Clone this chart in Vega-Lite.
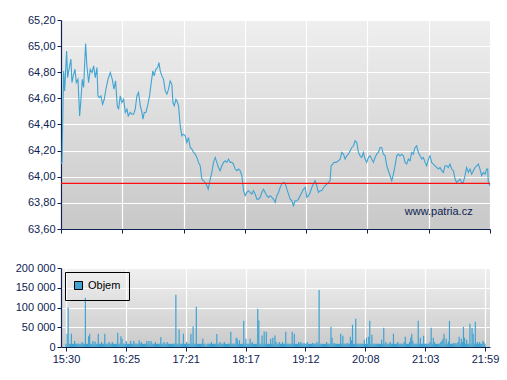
{
"$schema": "https://vega.github.io/schema/vega-lite/v6.json",
"padding": {"left": 11, "top": 14, "right": 3, "bottom": 5},
"spacing": 39,
"bounds": "flush",
"resolve": {"legend": {"color": "independent"}},
"config": {
 "locale": {"number": {"decimal": ",", "thousands": " ", "grouping": [3], "currency": ["", ""]}},
 "font": "Liberation Sans",
 "view": {"stroke": null},
 "axis": {"labelFont": "Liberation Sans", "labelFontSize": 11, "labelColor": "#0d2352", "domainColor": "#0d2352", "tickColor": "#0d2352", "gridColor": "#ffffff", "gridWidth": 1.2, "gridOpacity": 1, "tickSize": 4, "labelPadding": 2, "title": null, "domainWidth": 1.2}
},
"datasets": {
"price": [
{"t":0,"p":64.097},{"t":0.9,"p":64.11},{"t":2.4,"p":64.81},{"t":3.3,"p":64.657},{"t":5.1,"p":64.963},{"t":6.0,"p":64.759},{"t":7.5,"p":64.836},{"t":9.0,"p":64.9},{"t":9.9,"p":64.721},{"t":11.1,"p":64.772},{"t":12.65,"p":64.823},{"t":13.9,"p":64.721},{"t":15.4,"p":64.746},{"t":16.9,"p":64.466},{"t":18.1,"p":64.593},{"t":19.3,"p":64.746},{"t":20.5,"p":64.683},{"t":22.3,"p":65.019},{"t":23.5,"p":64.848},{"t":25.0,"p":64.721},{"t":26.5,"p":64.823},{"t":28.1,"p":64.797},{"t":29.6,"p":64.848},{"t":31.1,"p":64.759},{"t":32.6,"p":64.836},{"t":33.5,"p":64.619},{"t":34.7,"p":64.606},{"t":36.2,"p":64.619},{"t":37.7,"p":64.555},{"t":39.2,"p":64.593},{"t":41.0,"p":64.683},{"t":42.6,"p":64.746},{"t":44.7,"p":64.797},{"t":46.5,"p":64.746},{"t":48.0,"p":64.67},{"t":49.5,"p":64.734},{"t":51.0,"p":64.543},{"t":52.2,"p":64.517},{"t":53.7,"p":64.619},{"t":55.2,"p":64.568},{"t":56.8,"p":64.593},{"t":58.3,"p":64.492},{"t":59.8,"p":64.517},{"t":61.0,"p":64.466},{"t":62.8,"p":64.492},{"t":64.3,"p":64.479},{"t":65.8,"p":64.479},{"t":67.3,"p":64.517},{"t":68.8,"p":64.619},{"t":70.3,"p":64.645},{"t":71.9,"p":64.543},{"t":73.4,"p":64.492},{"t":74.3,"p":64.441},{"t":75.5,"p":64.492},{"t":77.0,"p":64.492},{"t":78.5,"p":64.543},{"t":80.3,"p":64.619},{"t":81.8,"p":64.721},{"t":83.3,"p":64.81},{"t":84.5,"p":64.772},{"t":86.0,"p":64.823},{"t":87.6,"p":64.836},{"t":88.8,"p":64.874},{"t":90.0,"p":64.81},{"t":91.5,"p":64.772},{"t":93.0,"p":64.746},{"t":94.5,"p":64.657},{"t":96.0,"p":64.632},{"t":97.5,"p":64.67},{"t":99.0,"p":64.734},{"t":100.5,"p":64.708},{"t":101.5,"p":64.568},{"t":102.7,"p":64.543},{"t":104.2,"p":64.593},{"t":105.1,"p":64.581},{"t":106.6,"p":64.543},{"t":108.1,"p":64.39},{"t":109.6,"p":64.313},{"t":111.1,"p":64.326},{"t":112.6,"p":64.313},{"t":114.1,"p":64.262},{"t":115.6,"p":64.3},{"t":117.2,"p":64.224},{"t":118.7,"p":64.211},{"t":120.2,"p":64.186},{"t":121.7,"p":64.173},{"t":123.2,"p":64.148},{"t":124.7,"p":64.11},{"t":126.2,"p":64.084},{"t":127.7,"p":63.982},{"t":129.2,"p":63.97},{"t":130.7,"p":63.956},{"t":132.3,"p":63.931},{"t":133.5,"p":63.905},{"t":135.3,"p":63.982},{"t":136.8,"p":64.033},{"t":138.3,"p":64.11},{"t":139.8,"p":64.148},{"t":141.3,"p":64.11},{"t":142.8,"p":64.071},{"t":144.3,"p":64.046},{"t":145.8,"p":64.084},{"t":147.4,"p":64.11},{"t":148.9,"p":64.122},{"t":150.4,"p":64.11},{"t":151.9,"p":64.135},{"t":153.4,"p":64.11},{"t":154.9,"p":64.11},{"t":156.4,"p":64.097},{"t":157.9,"p":64.059},{"t":159.4,"p":64.046},{"t":161.0,"p":64.059},{"t":162.5,"p":64.046},{"t":164.0,"p":64.008},{"t":165.5,"p":63.893},{"t":167.0,"p":63.855},{"t":168.5,"p":63.88},{"t":170.0,"p":63.893},{"t":171.5,"p":63.88},{"t":173.0,"p":63.867},{"t":174.5,"p":63.893},{"t":176.1,"p":63.867},{"t":177.6,"p":63.829},{"t":179.1,"p":63.829},{"t":180.6,"p":63.842},
{"t":182.1,"p":63.88},{"t":183.6,"p":63.905},{"t":185.1,"p":63.88},{"t":186.6,"p":63.855},{"t":188.1,"p":63.842},{"t":189.7,"p":63.855},{"t":191.2,"p":63.842},{"t":192.7,"p":63.829},{"t":194.2,"p":63.803},{"t":195.7,"p":63.855},{"t":197.2,"p":63.88},{"t":198.7,"p":63.918},{"t":200.2,"p":63.944},{"t":201.7,"p":63.956},{"t":203.2,"p":63.951},{"t":204.8,"p":63.905},{"t":206.3,"p":63.867},{"t":207.8,"p":63.829},{"t":209.3,"p":63.816},{"t":210.8,"p":63.778},{"t":212.3,"p":63.816},{"t":213.8,"p":63.816},{"t":215.3,"p":63.829},{"t":216.8,"p":63.855},{"t":218.3,"p":63.88},{"t":219.9,"p":63.905},{"t":221.4,"p":63.918},{"t":222.9,"p":63.842},{"t":224.4,"p":63.855},{"t":225.9,"p":63.88},{"t":227.4,"p":63.918},{"t":228.9,"p":63.944},{"t":230.4,"p":63.969},{"t":231.9,"p":63.931},{"t":233.4,"p":63.88},{"t":235.0,"p":63.893},{"t":236.5,"p":63.893},{"t":238.0,"p":63.918},{"t":239.5,"p":63.931},{"t":241.0,"p":63.944},{"t":242.5,"p":63.956},{"t":244.0,"p":63.969},{"t":244.9,"p":64.084},{"t":246.4,"p":64.097},{"t":247.6,"p":64.11},{"t":249.5,"p":64.11},{"t":251.6,"p":64.122},{"t":253.1,"p":64.135},{"t":254.6,"p":64.186},{"t":256.1,"p":64.173},{"t":257.6,"p":64.135},{"t":259.1,"p":64.16},{"t":260.6,"p":64.173},{"t":262.1,"p":64.198},{"t":263.7,"p":64.224},{"t":265.2,"p":64.237},{"t":266.7,"p":64.275},{"t":268.2,"p":64.262},{"t":269.7,"p":64.186},{"t":271.2,"p":64.16},{"t":272.7,"p":64.148},{"t":274.2,"p":64.186},{"t":275.7,"p":64.135},{"t":277.2,"p":64.11},{"t":278.8,"p":64.148},{"t":280.3,"p":64.16},{"t":281.8,"p":64.135},{"t":283.3,"p":64.11},{"t":284.8,"p":64.148},{"t":286.3,"p":64.173},{"t":287.8,"p":64.186},{"t":289.3,"p":64.224},{"t":290.8,"p":64.224},{"t":292.3,"p":64.173},{"t":293.9,"p":64.16},{"t":295.4,"p":64.084},{"t":296.9,"p":64.046},{"t":298.4,"p":64.008},{"t":299.9,"p":63.969},{"t":301.4,"p":64.02},{"t":302.9,"p":64.084},{"t":304.4,"p":64.16},{"t":305.9,"p":64.173},{"t":307.4,"p":64.16},{"t":309.0,"p":64.173},{"t":310.5,"p":64.16},{"t":312.0,"p":64.11},{"t":313.5,"p":64.097},{"t":315.0,"p":64.135},{"t":316.5,"p":64.122},{"t":318.0,"p":64.186},{"t":319.5,"p":64.173},{"t":321.0,"p":64.224},{"t":322.5,"p":64.237},{"t":324.0,"p":64.186},{"t":325.6,"p":64.16},{"t":327.1,"p":64.135},{"t":328.6,"p":64.148},{"t":330.1,"p":64.11},{"t":331.6,"p":64.084},{"t":333.1,"p":64.135},{"t":334.6,"p":64.16},{"t":336.1,"p":64.11},{"t":337.6,"p":64.097},{"t":339.2,"p":64.084},{"t":340.7,"p":64.071},{"t":342.2,"p":64.059},{"t":343.7,"p":64.071},{"t":345.2,"p":64.046},{"t":346.7,"p":64.033},{"t":348.2,"p":64.084},{"t":349.7,"p":64.084},{"t":351.2,"p":64.071},{"t":352.7,"p":64.097},{"t":354.3,"p":64.059},{"t":355.8,"p":64.046},{"t":357.3,"p":63.982},{"t":358.8,"p":63.956},{"t":360.3,"p":63.969},{"t":361.8,"p":63.982},{"t":363.3,"p":63.956},{"t":364.8,"p":63.956},{"t":366.3,"p":64.008},{"t":367.8,"p":64.071},{"t":369.4,"p":64.033},{"t":370.9,"p":64.059},{"t":372.4,"p":64.02},{"t":373.9,"p":64.046},{"t":375.4,"p":64.071},{"t":376.9,"p":64.084},{"t":378.4,"p":64.097},{"t":379.9,"p":64.059},{"t":381.4,"p":64.008},{"t":382.9,"p":64.033},{"t":384.5,"p":64.02},{"t":386.0,"p":64.059},{"t":386.9,"p":64.059},{"t":387.5,"p":63.956},{"t":389.0,"p":63.931}
],
"vol": [
{"t":0,"v":8000},{"t":1,"v":33600},{"t":2,"v":100000},{"t":3,"v":8000},{"t":4,"v":8000},{"t":5,"v":33600},{"t":6,"v":8000},{"t":7,"v":8000},{"t":8,"v":15000},{"t":9,"v":8000},
{"t":10,"v":8000},{"t":11,"v":8000},{"t":12,"v":8000},{"t":13,"v":8000},{"t":14,"v":8000},{"t":15,"v":12600},{"t":16,"v":8000},{"t":17,"v":8000},{"t":18,"v":125000},{"t":19,"v":8000},
{"t":20,"v":8000},{"t":21,"v":27000},{"t":22,"v":33600},{"t":23,"v":8000},{"t":24,"v":8000},{"t":25,"v":15000},{"t":26,"v":8000},{"t":27,"v":14000},{"t":28,"v":8000},{"t":29,"v":8000},
{"t":30,"v":33600},{"t":31,"v":8000},{"t":32,"v":8000},{"t":33,"v":12600},{"t":34,"v":8000},{"t":35,"v":8000},{"t":36,"v":33600},{"t":37,"v":8000},{"t":38,"v":8000},{"t":39,"v":8000},
{"t":40,"v":12600},{"t":41,"v":8000},{"t":42,"v":8000},{"t":43,"v":12600},{"t":44,"v":8000},{"t":45,"v":8000},{"t":46,"v":8000},{"t":47,"v":8000},{"t":48,"v":36000},{"t":49,"v":8000},
{"t":50,"v":8000},{"t":51,"v":27000},{"t":52,"v":21000},{"t":53,"v":8000},{"t":54,"v":8000},{"t":55,"v":8000},{"t":56,"v":15000},{"t":57,"v":8000},{"t":58,"v":8000},{"t":59,"v":8000},
{"t":60,"v":15000},{"t":61,"v":8000},{"t":62,"v":8000},{"t":63,"v":15000},{"t":64,"v":8000},{"t":65,"v":8000},{"t":66,"v":8000},{"t":67,"v":8000},{"t":68,"v":17000},{"t":69,"v":8000},
{"t":70,"v":12600},{"t":71,"v":8000},{"t":72,"v":8000},{"t":73,"v":8000},{"t":74,"v":8000},{"t":75,"v":15000},{"t":76,"v":8000},{"t":77,"v":15000},{"t":78,"v":8000},{"t":79,"v":15000},
{"t":80,"v":8000},{"t":81,"v":8000},{"t":82,"v":8000},{"t":83,"v":12600},{"t":84,"v":8000},{"t":85,"v":8000},{"t":86,"v":8000},{"t":87,"v":8000},{"t":88,"v":25000},{"t":89,"v":8000},
{"t":90,"v":8000},{"t":91,"v":12600},{"t":92,"v":8000},{"t":93,"v":8000},{"t":94,"v":12600},{"t":95,"v":8000},{"t":96,"v":8000},{"t":97,"v":8000},{"t":98,"v":8000},{"t":99,"v":8000},
{"t":100,"v":8000},{"t":101,"v":8000},{"t":102,"v":132000},{"t":103,"v":8000},{"t":104,"v":8000},{"t":105,"v":44500},{"t":106,"v":8000},{"t":107,"v":8000},{"t":108,"v":8000},{"t":109,"v":33600},
{"t":110,"v":8000},{"t":111,"v":8000},{"t":112,"v":12600},{"t":113,"v":8000},{"t":114,"v":8000},{"t":115,"v":8000},{"t":116,"v":33600},{"t":117,"v":8000},{"t":118,"v":52000},{"t":119,"v":8000},
{"t":120,"v":8000},{"t":121,"v":101700},{"t":122,"v":8000},{"t":123,"v":8000},{"t":124,"v":8000},{"t":125,"v":8000},{"t":126,"v":8000},{"t":127,"v":21000},{"t":128,"v":8000},{"t":129,"v":8000},
{"t":130,"v":1500},{"t":131,"v":8000},{"t":132,"v":8000},{"t":133,"v":8000},{"t":134,"v":8000},{"t":135,"v":12600},{"t":136,"v":8000},{"t":137,"v":8000},{"t":138,"v":8000},{"t":139,"v":8000},
{"t":140,"v":33000},{"t":141,"v":8000},{"t":142,"v":8000},{"t":143,"v":12600},{"t":144,"v":8000},{"t":145,"v":8000},{"t":146,"v":8000},{"t":147,"v":12600},{"t":148,"v":8000},{"t":149,"v":8000},
{"t":150,"v":8000},{"t":151,"v":8000},{"t":152,"v":8000},{"t":153,"v":38600},{"t":154,"v":8000},{"t":155,"v":8000},{"t":156,"v":8000},{"t":157,"v":8000},{"t":158,"v":23500},{"t":159,"v":21000},
{"t":160,"v":8000},{"t":161,"v":17000},{"t":162,"v":8000},{"t":163,"v":8000},{"t":164,"v":8000},{"t":165,"v":66400},{"t":166,"v":8000},{"t":167,"v":21000},{"t":168,"v":8000},{"t":169,"v":8000},
{"t":170,"v":8000},{"t":171,"v":21000},{"t":172,"v":8000},{"t":173,"v":12600},{"t":174,"v":8000},{"t":175,"v":8000},{"t":176,"v":8000},{"t":177,"v":8000},{"t":178,"v":96600},{"t":179,"v":67200},
{"t":180,"v":8000},{"t":181,"v":8000},{"t":182,"v":29400},{"t":183,"v":8000},{"t":184,"v":39500},{"t":185,"v":8000},{"t":186,"v":38600},{"t":187,"v":8000},{"t":188,"v":8000},{"t":189,"v":8000},
{"t":190,"v":21000},{"t":191,"v":8000},{"t":192,"v":23500},{"t":193,"v":8000},{"t":194,"v":29400},{"t":195,"v":12600},{"t":196,"v":8000},{"t":197,"v":8000},{"t":198,"v":12600},{"t":199,"v":8000},
{"t":200,"v":8000},{"t":201,"v":12600},{"t":202,"v":8000},{"t":203,"v":8000},{"t":204,"v":38600},{"t":205,"v":8000},{"t":206,"v":8000},{"t":207,"v":8000},{"t":208,"v":8000},{"t":209,"v":8000},
{"t":210,"v":38600},{"t":211,"v":8000},{"t":212,"v":33600},{"t":213,"v":8000},{"t":214,"v":8000},{"t":215,"v":8000},{"t":216,"v":12600},{"t":217,"v":8000},{"t":218,"v":12600},{"t":219,"v":8000},
{"t":220,"v":8000},{"t":221,"v":10000},{"t":222,"v":8000},{"t":223,"v":8000},{"t":224,"v":12600},{"t":225,"v":8000},{"t":226,"v":8000},{"t":227,"v":8000},{"t":228,"v":8000},{"t":229,"v":10000},
{"t":230,"v":8000},{"t":231,"v":8000},{"t":232,"v":8000},{"t":233,"v":12600},{"t":234,"v":8000},{"t":235,"v":144500},{"t":236,"v":8000},{"t":237,"v":8000},{"t":238,"v":8000},{"t":239,"v":8000},
{"t":240,"v":8000},{"t":241,"v":8000},{"t":242,"v":12600},{"t":243,"v":8000},{"t":244,"v":8000},{"t":245,"v":8000},{"t":246,"v":51000},{"t":247,"v":23500},{"t":248,"v":8000},{"t":249,"v":10000},
{"t":250,"v":8000},{"t":251,"v":8000},{"t":252,"v":8000},{"t":253,"v":8000},{"t":254,"v":8000},{"t":255,"v":33600},{"t":256,"v":8000},{"t":257,"v":28500},{"t":258,"v":8000},{"t":259,"v":8000},
{"t":260,"v":8000},{"t":261,"v":10000},{"t":262,"v":8000},{"t":263,"v":8000},{"t":264,"v":26000},{"t":265,"v":17000},{"t":266,"v":56300},{"t":267,"v":8000},{"t":268,"v":8000},{"t":269,"v":71400},
{"t":270,"v":8000},{"t":271,"v":8000},{"t":272,"v":8000},{"t":273,"v":8000},{"t":274,"v":8000},{"t":275,"v":8000},{"t":276,"v":8000},{"t":277,"v":18500},{"t":278,"v":8000},{"t":279,"v":23500},
{"t":280,"v":8000},{"t":281,"v":26000},{"t":282,"v":66400},{"t":283,"v":8000},{"t":284,"v":31000},{"t":285,"v":8000},{"t":286,"v":8000},{"t":287,"v":8000},{"t":288,"v":8000},{"t":289,"v":8000},
{"t":290,"v":8000},{"t":291,"v":8000},{"t":292,"v":8000},{"t":293,"v":18500},{"t":294,"v":8000},{"t":295,"v":48700},{"t":296,"v":8000},{"t":297,"v":12600},{"t":298,"v":8000},{"t":299,"v":8000},
{"t":300,"v":8000},{"t":301,"v":12600},{"t":302,"v":8000},{"t":303,"v":8000},{"t":304,"v":33600},{"t":305,"v":8000},{"t":306,"v":8000},{"t":307,"v":8000},{"t":308,"v":12600},{"t":309,"v":8000},
{"t":310,"v":8000},{"t":311,"v":8000},{"t":312,"v":8000},{"t":313,"v":8000},{"t":314,"v":12600},{"t":315,"v":26000},{"t":316,"v":8000},{"t":317,"v":8000},{"t":318,"v":8000},{"t":319,"v":12600},
{"t":320,"v":23500},{"t":321,"v":33600},{"t":322,"v":16000},{"t":323,"v":8000},{"t":324,"v":8000},{"t":325,"v":8000},{"t":326,"v":8000},{"t":327,"v":66400},{"t":328,"v":8000},{"t":329,"v":23500},
{"t":330,"v":8000},{"t":331,"v":8000},{"t":332,"v":28500},{"t":333,"v":8000},{"t":334,"v":8000},{"t":335,"v":8000},{"t":336,"v":8000},{"t":337,"v":8000},{"t":338,"v":12600},{"t":339,"v":48700},
{"t":340,"v":8000},{"t":341,"v":23500},{"t":342,"v":12600},{"t":343,"v":8000},{"t":344,"v":8000},{"t":345,"v":8000},{"t":346,"v":8000},{"t":347,"v":8000},{"t":348,"v":12600},{"t":349,"v":16000},
{"t":350,"v":21000},{"t":351,"v":33600},{"t":352,"v":8000},{"t":353,"v":21000},{"t":354,"v":8000},{"t":355,"v":14000},{"t":356,"v":66400},{"t":357,"v":8000},{"t":358,"v":8000},{"t":359,"v":8000},
{"t":360,"v":10000},{"t":361,"v":8000},{"t":362,"v":10000},{"t":363,"v":8000},{"t":364,"v":12600},{"t":365,"v":26000},{"t":366,"v":8000},{"t":367,"v":21000},{"t":368,"v":12600},{"t":369,"v":51000},
{"t":370,"v":23500},{"t":371,"v":8000},{"t":372,"v":18500},{"t":373,"v":8000},{"t":374,"v":8000},{"t":375,"v":58800},{"t":376,"v":8000},{"t":377,"v":48700},{"t":378,"v":33600},{"t":379,"v":8000},
{"t":380,"v":63900},{"t":381,"v":8000},{"t":382,"v":12600},{"t":383,"v":8000},{"t":384,"v":12600},{"t":385,"v":8000},{"t":386,"v":8000},{"t":387,"v":16000},{"t":388,"v":12600},{"t":389,"v":8000}
]
},
"vconcat": [
{
 "width": 429, "height": 209,
 "view": {"stroke": null, "fill": {"gradient": "linear", "x1": 0, "y1": 0, "x2": 0, "y2": 1, "stops": [{"offset": 0, "color": "#efefef"}, {"offset": 1, "color": "#c8c8c8"}]}},
 "layer": [
  {
   "data": {"name": "price"},
   "mark": {"type": "line", "color": "#3fa3d3", "strokeWidth": 1.1},
   "encoding": {
    "x": {"field": "t", "type": "quantitative", "scale": {"domain": [0, 389], "nice": false, "zero": false},
          "axis": {"values": [0, 55.5714, 111.1429, 166.7143, 222.2857, 277.8571, 333.4286, 389], "labels": false, "grid": true}},
    "y": {"field": "p", "type": "quantitative", "scale": {"domain": [63.6, 65.2], "nice": false, "zero": false},
          "axis": {"values": [63.6, 63.8, 64.0, 64.2, 64.4, 64.6, 64.8, 65.0, 65.2], "format": ".2f", "minExtent": 50, "maxExtent": 50, "grid": true, "labelOverlap": false}}
   }
  },
  {
   "data": {"values": [{"close": 63.95}]},
   "mark": {"type": "rule", "color": "#ff1010", "strokeWidth": 1.3},
   "encoding": {"y": {"field": "close", "type": "quantitative", "scale": {"domain": [63.6, 65.2], "nice": false, "zero": false},
          "axis": {"values": [63.6, 63.8, 64.0, 64.2, 64.4, 64.6, 64.8, 65.0, 65.2], "format": ".2f", "minExtent": 50, "maxExtent": 50, "grid": true, "labelOverlap": false}}}
  },
  {
   "data": {"values": [{"label": "www.patria.cz"}]},
   "mark": {"type": "text", "align": "right", "baseline": "middle", "font": "Liberation Sans", "fontSize": 11, "color": "#0d2352"},
   "encoding": {"x": {"datum": 373.3, "type": "quantitative"},
                "y": {"datum": 63.73, "type": "quantitative", "axis": {"values": [63.6, 63.8, 64.0, 64.2, 64.4, 64.6, 64.8, 65.0, 65.2], "format": ".2f", "minExtent": 50, "maxExtent": 50, "grid": true, "labelOverlap": false}},
                "text": {"field": "label"}}
  }
 ]
},
{
 "width": 429, "height": 79,
 "view": {"stroke": null, "fill": {"gradient": "linear", "x1": 0, "y1": 0, "x2": 0, "y2": 1, "stops": [{"offset": 0, "color": "#f0f0f0"}, {"offset": 1, "color": "#cacaca"}]}},
 "data": {"name": "vol"},
 "mark": {"type": "bar", "size": 1.2, "orient": "vertical"},
 "encoding": {
  "x": {"field": "t", "type": "quantitative", "scale": {"domain": [0, 389], "nice": false, "zero": false},
        "axis": {"values": [0, 55.5714, 111.1429, 166.7143, 222.2857, 277.8571, 333.4286, 389], "grid": true,
                 "labelExpr": "['15:30','16:25','17:21','18:17','19:12','20:08','21:03','21:59'][round(datum.value/55.5714)]"}},
  "y": {"field": "v", "type": "quantitative", "scale": {"domain": [0, 200000], "nice": false},
        "axis": {"values": [0, 50000, 100000, 150000, 200000], "format": ",.0f", "minExtent": 50, "maxExtent": 50, "grid": true}},
  "color": {"datum": "Objem", "type": "nominal", "scale": {"range": ["#3fa3d3"]},
            "legend": {"orient": "top-left", "offset": 4, "title": null, "strokeColor": "#000000", "padding": 8,
                       "symbolType": "square", "symbolSize": 64, "symbolStrokeColor": "#000000", "symbolStrokeWidth": 1,
                       "labelFontSize": 11, "labelColor": "#000000", "labelFont": "Liberation Sans", "labelOffset": 4}}
 }
}
]
}
